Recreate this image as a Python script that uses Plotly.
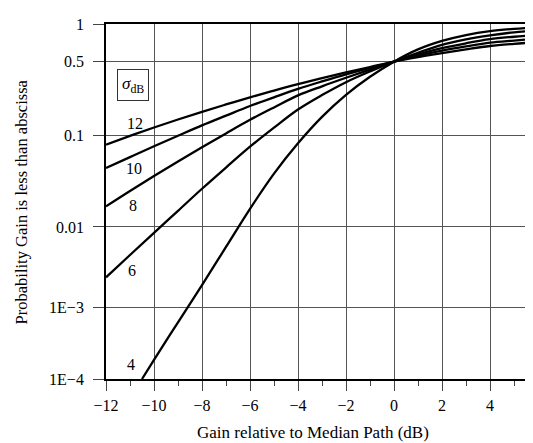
import numpy as np
import plotly.graph_objects as go

# ---- data ----
X_DB = [-12, -11, -10, -9, -8, -7, -6, -5, -4, -3, -2, -1, 0, 1, 2, 3, 4, 5, 6]
X_DB_S4 = [-10.5, -10, -9, -8, -7, -6, -5, -4, -3, -2, -1, 0, 1, 2, 3, 4, 5, 6]
P_SIGMA12 = [0.0795, 0.0990, 0.1191, 0.1418, 0.1675, 0.1966, 0.2297, 0.2660, 0.3062, 0.3488,
             0.3956, 0.4447, 0.5, 0.5432, 0.5857, 0.6272, 0.6669, 0.6938, 0.7167]
P_SIGMA10 = [0.04404, 0.05802, 0.07625, 0.0993, 0.1246, 0.1541, 0.1900, 0.2297, 0.2759, 0.3251,
             0.3798, 0.4372, 0.5, 0.5561, 0.6116, 0.6621, 0.7102, 0.7375, 0.7633]
P_SIGMA8 = [0.01677, 0.02470, 0.03599, 0.05194, 0.07441, 0.1046, 0.1406, 0.1844, 0.2396, 0.2922,
            0.3518, 0.4207, 0.5, 0.5703, 0.6411, 0.7013, 0.7564, 0.7911, 0.8204]
P_SIGMA6 = [0.002375, 0.004488, 0.00846, 0.01501, 0.02614, 0.04461, 0.07534, 0.1186, 0.1760, 0.2412,
            0.3196, 0.4041, 0.5, 0.5881, 0.6814, 0.7523, 0.8101, 0.8580, 0.8897]
P_SIGMA4 = [1.0e-4, 1.850e-4, 6.232e-4, 1.900e-3, 5.643e-3, 0.01577, 0.03827, 0.08212, 0.1499,
            0.2422, 0.3593, 0.5, 0.6264, 0.7323, 0.8159, 0.8768, 0.9141, 0.9390]
SIGMAS = ["12", "10", "8", "6", "4"]

Y_TICK_P = [1e-4, 1e-3, 1e-2, 0.1, 0.5, 1.0]
Y_TICK_TEXT = ["1E\u22124", "1E\u22123", "0.01", "0.1", "0.5", "1"]
X_TICKS = [-12, -10, -8, -6, -4, -2, 0, 2, 4, 6]
X_TICK_TEXT = ["\u221212", "\u221210", "\u22128", "\u22126", "\u22124", "\u22122", "0", "2", "4", "6"]

# ---- probability-paper scale of the reference (non-uniform decades) ----
SCALE_POS = [0, 73, 155.5, 249, 324.5, 363]


def yscale(p):
    return np.interp(np.log10(np.asarray(p, dtype=float)), np.log10(Y_TICK_P), SCALE_POS)


FONT = "Liberation Serif"
fig = go.Figure()
series = [(X_DB, P_SIGMA12), (X_DB, P_SIGMA10), (X_DB, P_SIGMA8), (X_DB, P_SIGMA6), (X_DB_S4, P_SIGMA4)]
for (xs, ps), s in zip(series, SIGMAS):
    fig.add_trace(go.Scatter(x=xs, y=yscale(ps), mode="lines", name=s,
                             line=dict(color="black", width=2.3, shape="spline", smoothing=1.0),
                             showlegend=False))

# curve labels
label_pos = {"12": (-10.79, 261), "10": (-10.83, 215), "8": (-10.875, 177), "6": (-10.92, 111), "4": (-10.96, 15)}
for s in SIGMAS:
    lx, ly = label_pos[s]
    fig.add_annotation(x=lx, y=ly, xref="x", yref="y", text=s, showarrow=False,
                       font=dict(family=FONT, size=16, color="black"))
fig.add_annotation(x=-10.875, y=301, xref="x", yref="y", text="<i>\u03c3</i><sub>dB</sub>", showarrow=False,
                   font=dict(family=FONT, size=17, color="black"), bordercolor="#333", borderwidth=1,
                   borderpad=4, bgcolor="white")

fig.add_annotation(x=0.485, y=-0.151, xref="paper", yref="paper", text="Gain relative to Median Path (dB)",
                   showarrow=False, font=dict(family=FONT, size=17, color="black"), yanchor="middle")
fig.add_annotation(x=-0.197, y=0.5, xref="paper", yref="paper", text="Probability Gain is less than abscissa",
                   showarrow=False, textangle=-90, font=dict(family=FONT, size=16.5, color="black"),
                   xanchor="center", yanchor="middle")

fig.update_xaxes(range=[-12, -12 + 427 / 24], tickvals=X_TICKS, ticktext=X_TICK_TEXT,
                 showgrid=True, gridcolor="#555", gridwidth=1, zeroline=False,
                 showline=True, linecolor="black", linewidth=1.8, mirror=True,
                 ticks="outside", ticklen=10, tickcolor="#444", tickwidth=1,
                 minor=dict(dtick=1, tick0=-12, ticks="outside", ticklen=5, tickcolor="#444", showgrid=False),
                 tickfont=dict(family=FONT, size=16, color="black"), ticklabelstandoff=1)
fig.update_yaxes(range=[0, 363], tickvals=list(yscale(Y_TICK_P)), ticktext=Y_TICK_TEXT,
                 showgrid=True, gridcolor="#555", gridwidth=1, zeroline=False,
                 showline=True, linecolor="black", linewidth=1.8,
                 ticks="outside", ticklen=11, tickcolor="#444", tickwidth=1,
                 tickfont=dict(family=FONT, size=16, color="black"), ticklabelstandoff=6)

# the page body adds an 8 px offset, so margins are set 8 px smaller on the top/left
fig.update_layout(width=533, height=443, margin=dict(l=98, r=8, t=8, b=72),
                  plot_bgcolor="white", paper_bgcolor="white")
fig.write_html("out.html")
